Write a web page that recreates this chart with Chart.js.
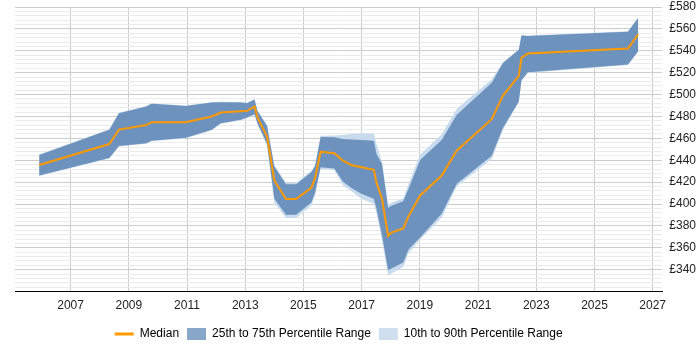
<!DOCTYPE html>
<html>
<head>
<meta charset="utf-8">
<script src="https://cdn.jsdelivr.net/npm/chart.js@4/dist/chart.umd.min.js"></script>
<style>
  body { margin: 0; background: #fff; }
  #wrap { width: 700px; height: 350px; }
</style>
</head>
<body>
<div id="wrap"><canvas id="salaryChart" width="700" height="350"></canvas></div>
<script>
// years as decimals (time of each sample)
var years = [2005.92, 2008.33, 2008.66, 2009.60, 2009.78, 2010.96, 2011.85, 2012.16, 2012.85, 2013.06,
  2013.32, 2013.42, 2013.75, 2014.00, 2014.40, 2014.75, 2015.27, 2015.40, 2015.59, 2016.06,
  2016.36, 2016.64, 2016.99, 2017.42, 2017.51, 2017.70, 2017.91, 2018.02, 2018.43, 2018.61,
  2019.01, 2019.75, 2020.27, 2021.47, 2021.85, 2022.40, 2022.49, 2022.71, 2026.15, 2026.50];

var median = [435.7, 454.8, 468.0, 472.1, 474.8, 474.8, 480.0, 483.6, 484.8, 485.1,
  489.1, 479.1, 461.6, 421.5, 404.5, 404.5, 414.8, 423.9, 447.8, 446.4,
  439.6, 435.7, 433.6, 431.2, 419.4, 404.8, 370.9, 373.9, 377.8, 388.9,
  407.8, 426.0, 448.9, 477.5, 498.9, 517.1, 533.6, 537.5, 542.1, 555.1];

var p75 = [444.8, 467.8, 483.0, 489.1, 491.5, 489.6, 492.7, 493.0, 492.7, 492.1,
  495.5, 485.1, 471.2, 434.4, 418.0, 418.0, 429.1, 434.8, 461.2, 460.9,
  459.4, 458.9, 458.5, 457.8, 445.7, 436.6, 396.4, 398.5, 402.5, 413.9,
  440.3, 458.5, 481.6, 510.9, 528.5, 540.9, 553.9, 553.5, 557.3, 570.0];

var p25 = [426.0, 442.1, 453.0, 455.5, 457.8, 460.5, 467.8, 473.9, 477.1, 479.1,
  482.1, 473.9, 454.8, 404.8, 390.3, 390.3, 401.5, 410.3, 433.6, 432.4,
  420.3, 414.8, 409.4, 404.8, 395.7, 371.5, 339.6, 341.2, 346.6, 358.5,
  369.4, 391.2, 418.5, 444.2, 469.4, 493.6, 513.0, 520.3, 527.5, 539.6];

var p90 = [445.2, 468.3, 483.5, 489.6, 492.0, 490.1, 493.2, 493.5, 493.2, 492.6,
  496.0, 485.6, 472.1, 435.7, 419.4, 419.4, 430.3, 435.7, 462.4, 462.5,
  463.0, 463.9, 464.5, 464.5, 454.8, 438.5, 399.8, 401.2, 405.3, 418.4,
  445.3, 463.5, 487.1, 513.9, 529.6, 541.4, 554.4, 554.0, 557.8, 570.5];

var p10 = [425.5, 441.6, 452.5, 455.0, 457.3, 460.0, 467.3, 473.4, 476.6, 478.6,
  481.6, 473.0, 453.0, 401.2, 387.3, 387.3, 398.7, 407.5, 432.1, 431.2,
  416.9, 412.1, 404.8, 400.3, 391.2, 366.6, 334.4, 336.6, 342.5, 354.8,
  367.5, 387.5, 416.2, 441.2, 467.5, 493.1, 512.5, 519.8, 527.0, 539.1];

var xTicks = [2007, 2009, 2011, 2013, 2015, 2017, 2019, 2021, 2023, 2025, 2027];

var orange = "#ff9900";
var darkBand = "#6c92bd";
var lightBand = "#c8daed";
var fontFamily = "'Liberation Sans', Arial, sans-serif";

function toPoints(values) {
  return values.map(function (v, i) {
    return { x: years[i], y: v };
  });
}

// keep the legend centred under the plot area, not the whole canvas
var centreLegend = {
  id: "centreLegend",
  afterLayout: function (chart) {
    var lg = chart.legend;
    if (!lg) return;
    var shift = (chart.chartArea.left + chart.chartArea.right) / 2 - (lg.left + lg.right) / 2;
    lg.left += shift;
    lg.right += shift;
  },
};

var myChart;

function renderChart() {
  try {
    if (myChart) {
      myChart.destroy();
    }
    var ctx = document.getElementById("salaryChart").getContext("2d");
    myChart = new Chart(ctx, {
      type: "line",
      data: {
        datasets: [
          {
            label: "Median",
            data: toPoints(median),
            borderColor: orange,
            borderWidth: 2,
            pointRadius: 0,
            fill: false,
            tension: 0,
          },
          {
            label: "25th to 75th Percentile Range",
            data: toPoints(p75),
            borderWidth: 0,
            borderColor: "rgba(0,0,0,0)",
            backgroundColor: darkBand,
            pointRadius: 0,
            fill: "+1",
          },
          {
            label: "p25",
            data: toPoints(p25),
            borderWidth: 0,
            borderColor: "rgba(0,0,0,0)",
            pointRadius: 0,
            fill: false,
          },
          {
            label: "10th to 90th Percentile Range",
            data: toPoints(p90),
            borderWidth: 0,
            borderColor: "rgba(0,0,0,0)",
            backgroundColor: lightBand,
            pointRadius: 0,
            fill: "+1",
          },
          {
            label: "p10",
            data: toPoints(p10),
            borderWidth: 0,
            borderColor: "rgba(0,0,0,0)",
            pointRadius: 0,
            fill: false,
          },
        ],
      },
      plugins: [centreLegend],
      options: {
        responsive: false,
        animation: false,
        layout: {
          padding: { left: 15, right: -3, top: 0, bottom: 0 },
        },
        scales: {
          x: {
            type: "linear",
            min: 2005.09,
            max: 2027.33,
            afterBuildTicks: function (axis) {
              axis.ticks = xTicks.map(function (v) {
                return { value: v };
              });
            },
            grid: {
              color: "#cccccc",
              drawTicks: false,
            },
            border: { color: "#000000", width: 1 },
            ticks: {
              padding: 7,
              color: "#222222",
              font: { family: fontFamily, size: 12 },
              callback: function (v) {
                return String(v);
              },
            },
          },
          y: {
            position: "right",
            min: 320,
            max: 580,
            afterFit: function (scale) {
              // only leave room for half of the top label
              scale.paddingTop = 7;
              scale.paddingBottom = 7;
            },
            grid: {
              drawTicks: false,
              color: function (c) {
                return c.tick && c.tick.value % 20 === 0 ? "#cccccc" : "#ebebeb";
              },
            },
            border: { display: false },
            ticks: {
              stepSize: 4,
              autoSkip: false,
              padding: 7,
              color: "#222222",
              font: { family: fontFamily, size: 12 },
              callback: function (v) {
                if (v % 20 !== 0 || v === 320) return "";
                return "£" + v;
              },
            },
          },
        },
        plugins: {
          tooltip: { enabled: false },
          legend: {
            display: true,
            position: "bottom",
            labels: {
              usePointStyle: true,
              boxHeight: 16,
              pointStyleWidth: 19,
              padding: 8,
              color: "#222222",
              font: { family: fontFamily, size: 12 },
              generateLabels: function () {
                return [
                  { text: "Median", fillStyle: orange, strokeStyle: orange, lineWidth: 3, pointStyle: "line", datasetIndex: 0 },
                  { text: "25th to 75th Percentile Range", fillStyle: "#87a6c8", strokeStyle: "#87a6c8", lineWidth: 0, pointStyle: "rect", datasetIndex: 1 },
                  { text: "10th to 90th Percentile Range", fillStyle: "#d0dfef", strokeStyle: "#d0dfef", lineWidth: 0, pointStyle: "rect", datasetIndex: 3 },
                ];
              },
            },
          },
        },
      },
    });
  } catch (error) {
    console.log(error);
  }
}

renderChart();
</script>
</body>
</html>
